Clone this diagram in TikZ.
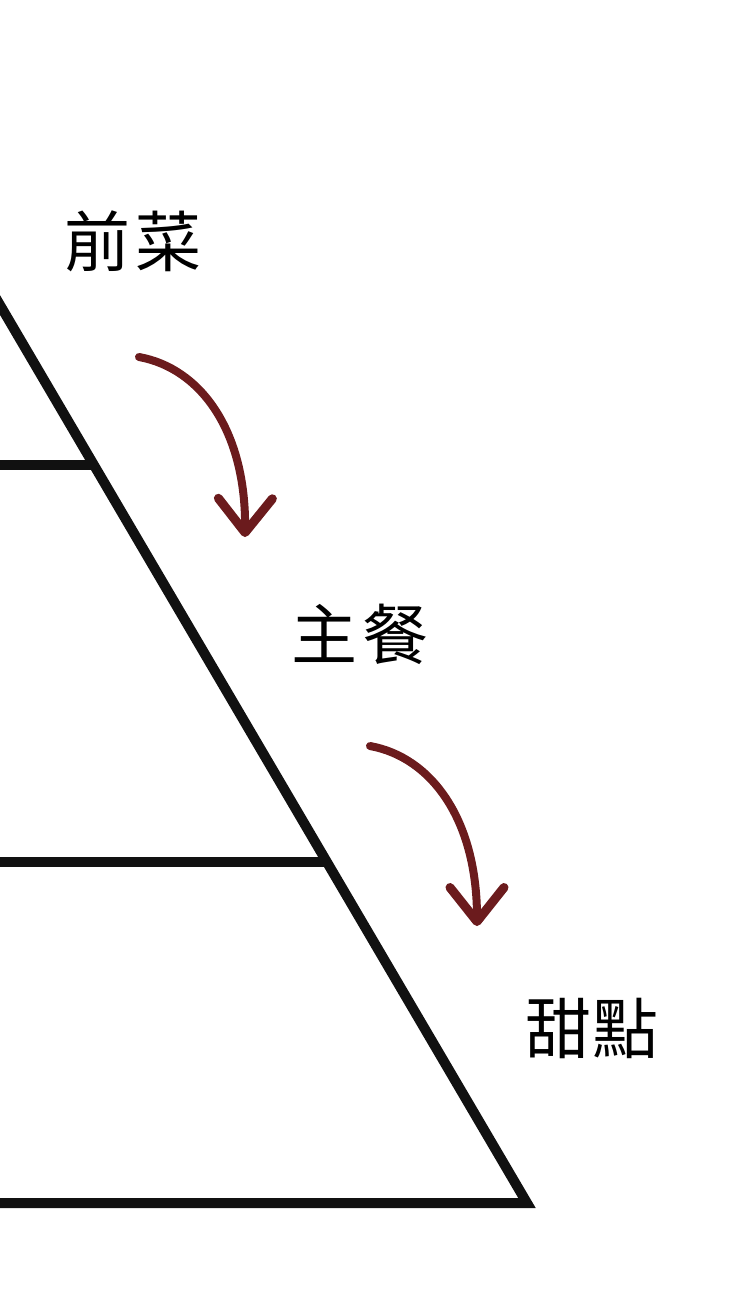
\documentclass[tikz,border=0pt]{standalone}
\usepackage{fontspec}
\newfontfamily\cjk{Noto Sans CJK TC}
\usetikzlibrary{arrows.meta}
\definecolor{arrowred}{HTML}{6B1B1D}
\definecolor{ink}{HTML}{111111}
\begin{document}
\begin{tikzpicture}[x=1pt,y=-1pt,
  frame/.style={draw=ink,line width=10pt},
  label/.style={font=\cjk\fontsize{66}{66}\selectfont,inner sep=0pt,text=black},
  curvearrow/.style={draw=arrowred,line width=8pt,line cap=round,
    -{Straight Barb[length=34pt,width=54pt,line width=9pt,line cap=round,line join=round]}}]
\useasboundingbox (0,0) rectangle (740,1302);
% pyramid
\coordinate (top) at (-10,288);
\coordinate (corner) at (527,1203);
\coordinate (base) at (-10,1203);
\coordinate (m1) at (95,465);
\coordinate (m1l) at (-10,465);
\coordinate (m2) at (328,862);
\coordinate (m2l) at (-10,862);
\draw[frame,line join=miter] (top) -- (corner) -- (base);
\draw[frame] (m1l) -- (m1);
\draw[frame] (m2l) -- (m2);
% labels
\node[label] (qc) at (133,241) {前\hspace{6pt}菜};
\node[label] (zc) at (360,634) {主\hspace{6pt}餐};
\node[label] (td) at (592,1028) {甜\hspace{2pt}點};
% arrows
\coordinate (a1s) at (139,357);
\coordinate (a1e) at (245,537);
\coordinate (a2s) at (370,746);
\coordinate (a2e) at (477,926);
\draw[curvearrow] (a1s) .. controls (200,368) and (246,430) .. (a1e);
\draw[curvearrow] (a2s) .. controls (431,757) and (477,819) .. (a2e);
\end{tikzpicture}
\end{document}
